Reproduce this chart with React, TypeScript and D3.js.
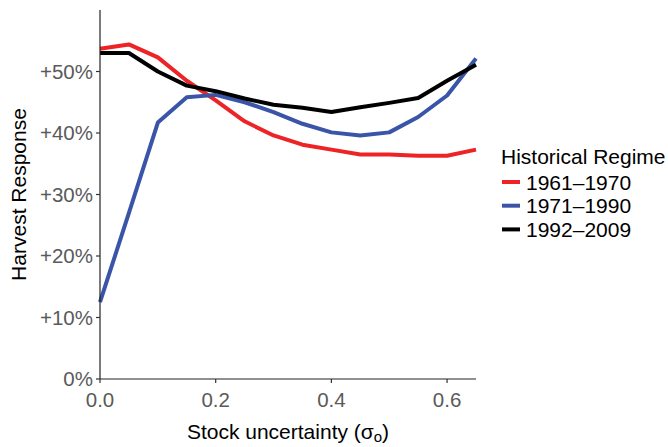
import React from 'react'
import * as d3 from 'd3'

// stock uncertainty levels
const sigma = [0, 0.05, 0.1, 0.15, 0.2, 0.25, 0.3, 0.35, 0.4, 0.45, 0.5, 0.55, 0.6, 0.65]

// harvest response per regime (fraction)
const regime1961 = [0.537, 0.544, 0.523, 0.485, 0.453, 0.419, 0.396, 0.381, 0.373, 0.365, 0.365, 0.363, 0.363, 0.373]
const regime1971 = [0.125, 0.27, 0.417, 0.458, 0.462, 0.45, 0.434, 0.415, 0.401, 0.396, 0.401, 0.426, 0.461, 0.521]
const regime1992 = [0.53, 0.53, 0.5, 0.477, 0.468, 0.456, 0.446, 0.441, 0.434, 0.442, 0.449, 0.457, 0.485, 0.511]

const seriesNames = ['1961–1970', '1971–1990', '1992–2009']
const seriesColors = ['#ee2326', '#3a55a7', '#000000']
const xTicks = [0, 0.2, 0.4, 0.6]
const yTicks = [0, 0.1, 0.2, 0.3, 0.4, 0.5]

const W = 668
const H = 447
const left = 100
const right = 476
const top = 10
const bottom = 379
const font = '"Liberation Sans", Arial, Helvetica, sans-serif'

export default function App() {
  const x = d3.scaleLinear().domain([0, 0.65]).range([left, right])
  const y = d3.scaleLinear().domain([0, 0.6]).range([bottom, top])

  const line = d3
    .line<number>()
    .x((_, i) => x(sigma[i]))
    .y((d) => y(d))

  const series = [regime1961, regime1971, regime1992]

  return (
    <svg
      width={W}
      height={H}
      style={{ position: 'absolute', left: 0, top: 0 }}
      fontFamily={font}
    >
      <rect width={W} height={H} fill="#fff" />

      {series.map((s, i) => (
        <path
          key={seriesNames[i]}
          d={line(s) || ''}
          fill="none"
          stroke={seriesColors[i]}
          strokeWidth={4}
          strokeLinejoin="round"
        />
      ))}

      {/* axes */}
      <line x1={left} x2={left} y1={top} y2={bottom} stroke="#222" strokeWidth={1.2} />
      <line x1={left} x2={right} y1={bottom} y2={bottom} stroke="#222" strokeWidth={1.2} />

      {yTicks.map((t) => (
        <g key={'y' + t}>
          <line x1={left - 4} x2={left} y1={y(t)} y2={y(t)} stroke="#333" strokeWidth={1.2} />
          <text
            x={left - 7}
            y={y(t)}
            dy="0.36em"
            textAnchor="end"
            fontSize={20.5}
            fill="#5a5a5a"
          >
            {t === 0 ? '0%' : '+' + d3.format('.0%')(t)}
          </text>
        </g>
      ))}

      {xTicks.map((t) => (
        <g key={'x' + t}>
          <line x1={x(t)} x2={x(t)} y1={bottom} y2={bottom + 4} stroke="#333" strokeWidth={1.2} />
          <text x={x(t)} y={bottom + 28} textAnchor="middle" fontSize={20.5} fill="#5a5a5a">
            {d3.format('.1f')(t)}
          </text>
        </g>
      ))}

      <text x={288} y={439} textAnchor="middle" fontSize={21} fill="#000">
        Stock uncertainty (σ<tspan fontSize={15} dy={3}>o</tspan>
        <tspan dy={-3}>)</tspan>
      </text>

      <text
        transform={`translate(26,${(top + bottom) / 2}) rotate(-90)`}
        textAnchor="middle"
        fontSize={21}
        fill="#000"
      >
        Harvest Response
      </text>

      {/* legend */}
      <text x={501} y={164} fontSize={21} fill="#000">
        Historical Regime
      </text>
      {seriesNames.map((n, i) => (
        <g key={n}>
          <line
            x1={502}
            x2={520}
            y1={182 + i * 23.7}
            y2={182 + i * 23.7}
            stroke={seriesColors[i]}
            strokeWidth={4}
          />
          <text x={526} y={182 + i * 23.7} dy="0.36em" fontSize={21} fill="#000">
            {n}
          </text>
        </g>
      ))}
    </svg>
  )
}
